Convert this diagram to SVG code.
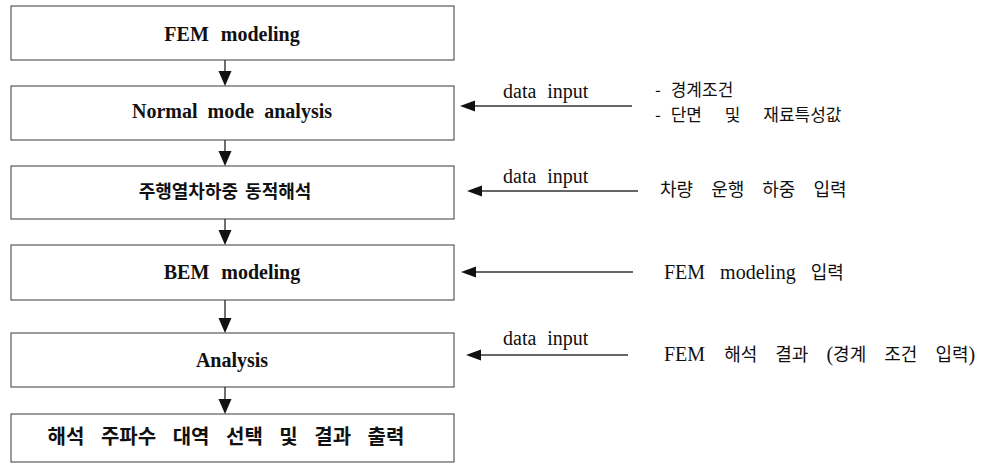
<svg xmlns="http://www.w3.org/2000/svg" width="981" height="467" viewBox="0 0 981 467">
<style>
.box{fill:#fff;stroke:#3a3a3a;stroke-width:1}
.bt{font-family:"Liberation Serif","Noto Sans CJK KR",serif;font-weight:bold;font-size:20px;fill:#111;text-anchor:middle}
.bk{font-family:"Noto Sans CJK KR",sans-serif;font-weight:bold;font-size:18px;fill:#111;text-anchor:middle}
.bk6{font-size:20px}
.lbl{font-family:"Liberation Serif","Noto Sans CJK KR",serif;font-size:20px;fill:#111}
.kr{font-family:"Noto Sans CJK KR",sans-serif;font-size:18px;fill:#111}
.kr17{font-size:17px}
.ln{stroke:#222;stroke-width:1.3;fill:none}
.hl{stroke:#333;stroke-width:1.5;fill:none}
.ah{fill:#111}
</style>
<g id="n1"><rect class="box" x="11" y="6" width="443" height="54"/><text class="bt" x="232" y="41" word-spacing="7">FEM modeling</text></g>
<g id="n2"><rect class="box" x="11" y="86" width="443" height="54"/><text class="bt" x="232" y="118" word-spacing="5">Normal mode analysis</text></g>
<g id="n3"><rect class="box" x="11" y="166" width="443" height="53"/><text class="bk" x="225" y="198" word-spacing="3">주행열차하중 동적해석</text></g>
<g id="n4"><rect class="box" x="11" y="245" width="443" height="55"/><text class="bt" x="232" y="279" word-spacing="7">BEM modeling</text></g>
<g id="n5"><rect class="box" x="11" y="333" width="443" height="54"/><text class="bt" x="232" y="367">Analysis</text></g>
<g id="n6"><rect class="box" x="11" y="414" width="443" height="48"/><text class="bk bk6" x="226" y="444" word-spacing="12">해석 주파수 대역 선택 및 결과 출력</text></g>
<g id="connectors">
<line class="ln" x1="225" y1="60" x2="225" y2="72"/><path class="ah" d="M218.5,71 L231.5,71 L225,86 Z"/>
<line class="ln" x1="225" y1="140" x2="225" y2="152"/><path class="ah" d="M218.5,151 L231.5,151 L225,166 Z"/>
<line class="ln" x1="225" y1="219" x2="225" y2="231"/><path class="ah" d="M218.5,230 L231.5,230 L225,245 Z"/>
<line class="ln" x1="225" y1="300" x2="225" y2="319"/><path class="ah" d="M218.5,318 L231.5,318 L225,333 Z"/>
<line class="ln" x1="225" y1="387" x2="225" y2="400"/><path class="ah" d="M218.5,399 L231.5,399 L225,414 Z"/>
<line class="hl" x1="632" y1="106" x2="475" y2="106"/><path class="ah" d="M460,106 L475,100.5 L475,111.5 Z"/>
<line class="hl" x1="638" y1="191" x2="482" y2="191"/><path class="ah" d="M467,191 L482,185.5 L482,196.5 Z"/>
<line class="hl" x1="633" y1="272" x2="476" y2="272"/><path class="ah" d="M461,272 L476,266.5 L476,277.5 Z"/>
<line class="hl" x1="628" y1="355" x2="481" y2="355"/><path class="ah" d="M466,355 L481,349.5 L481,360.5 Z"/>
</g>
<g id="labels">
<text class="lbl" x="503" y="98" word-spacing="6">data input</text>
<text class="lbl" x="503" y="183" word-spacing="6">data input</text>
<text class="lbl" x="503" y="345" word-spacing="6">data input</text>
<text class="kr kr17" x="655" y="96" word-spacing="6">- 경계조건</text>
<text class="kr kr17" x="655" y="121" word-spacing="6">- <tspan word-spacing="19">단면 및 재료특성값</tspan></text>
<text class="kr" x="660" y="196" word-spacing="14">차량 운행 하중 입력</text>
<text class="lbl" x="664" y="279" word-spacing="10">FEM modeling <tspan class="kr">입력</tspan></text>
<text class="lbl" x="664" y="361" word-spacing="14">FEM <tspan class="kr" word-spacing="14">해석 결과 </tspan>(<tspan class="kr" word-spacing="14">경계 조건 입력</tspan>)</text>
</g>
</svg>
